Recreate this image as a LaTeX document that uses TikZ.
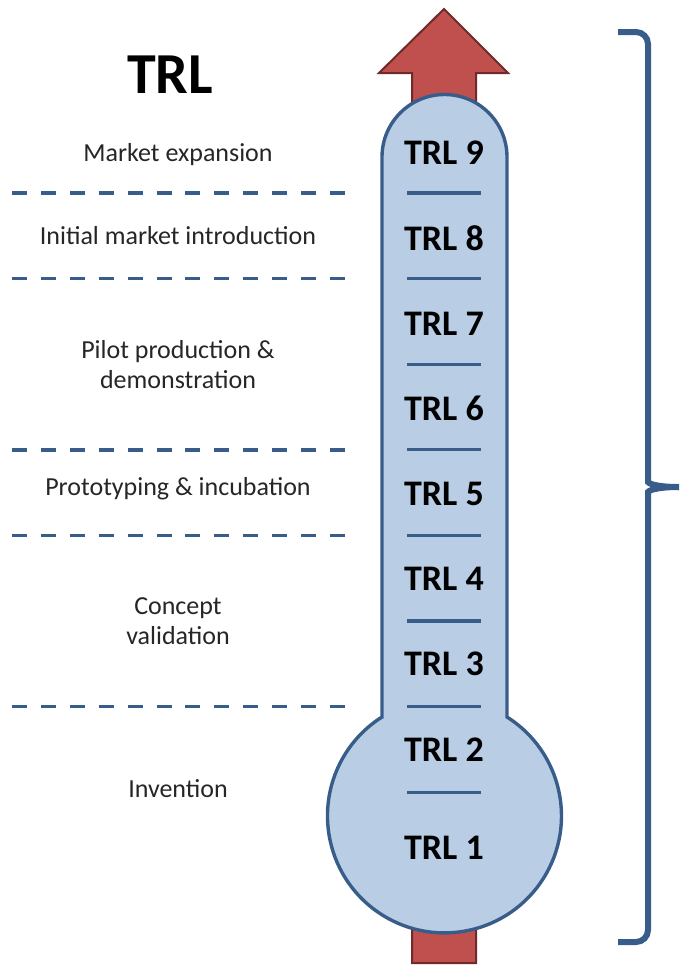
\documentclass[tikz,border=0pt]{standalone}
\usepackage{fontspec}
\setmainfont{Carlito}
\usetikzlibrary{positioning}

\definecolor{tubefill}{HTML}{B9CDE5}
\definecolor{tubeline}{HTML}{385D8A}
\definecolor{arrowfill}{HTML}{C0504D}
\definecolor{arrowline}{HTML}{6E2B29}

\begin{document}
\begin{tikzpicture}[
    x=0.5pt, y=-0.5pt,
    level/.style={font=\fontsize{18}{20}\selectfont\bfseries, text=black},
    phase/.style={font=\fontsize{13}{15}\selectfont, align=center, text=black!85},
    tube/.style={draw=tubeline, fill=tubefill, line width=1.7pt},
    sep/.style={draw=tubeline, line width=1.6pt},
    border/.style={draw=tubeline, line width=1.8pt, dash pattern=on 7.5pt off 6.95pt},
    brace/.style={draw=tubeline, line width=3pt, rounded corners=6pt}
]
\useasboundingbox (0,0) rectangle (683,966);

% Arrow behind the thermometer
\draw[fill=arrowfill, draw=arrowline, line width=1pt]
    (444,9) -- (508,73) -- (476,73) -- (476,963) -- (412,963) -- (412,73) -- (379,73) -- cycle;

% Thermometer
\draw[tube] (382,717) -- (382,157) arc[start angle=180, end angle=360, radius=62.5]
    -- (507,717) arc[start angle=-57.7, end angle=237.7, radius=117] -- cycle;

% Levels
\foreach \n in {2,...,9} {
    \node[level] (trl\n) at (444, {153+(9-\n)*85.2}) {TRL \n};
}
\node[level] (trl1) at (444, 848) {TRL 1};

\foreach \k in {0,...,7} {
    \draw[sep] (407, {193+\k*85.6}) -- (481, {193+\k*85.6});
}

% Phase borders
\foreach \y in {193, 278.6, 449.8, 535.4, 706.6} {
    \draw[border] (12,\y) -- (345,\y);
}

% Phases
\node[font=\fontsize{29}{32}\selectfont\bfseries] (title) at (170, 75) {TRL};
\node[phase] (market) at (178, 155) {Market expansion};
\node[phase] (intro) at (178, 236) {Initial market introduction};
\node[phase] (pilot) at (178, 365) {Pilot production \&\\demonstration};
\node[phase] (proto) at (178, 489) {Prototyping \& incubation};
\node[phase] (concept) at (178, 621) {Concept\\validation};
\node[phase] (invent) at (178, 789) {Invention};

% Brace
\draw[brace] (618,32) -| (648,470) .. controls (648,483) and (655,487) .. (679,487);
\draw[brace] (618,942) -| (648,504) .. controls (648,491) and (655,487) .. (679,487);

\end{tikzpicture}
\end{document}
